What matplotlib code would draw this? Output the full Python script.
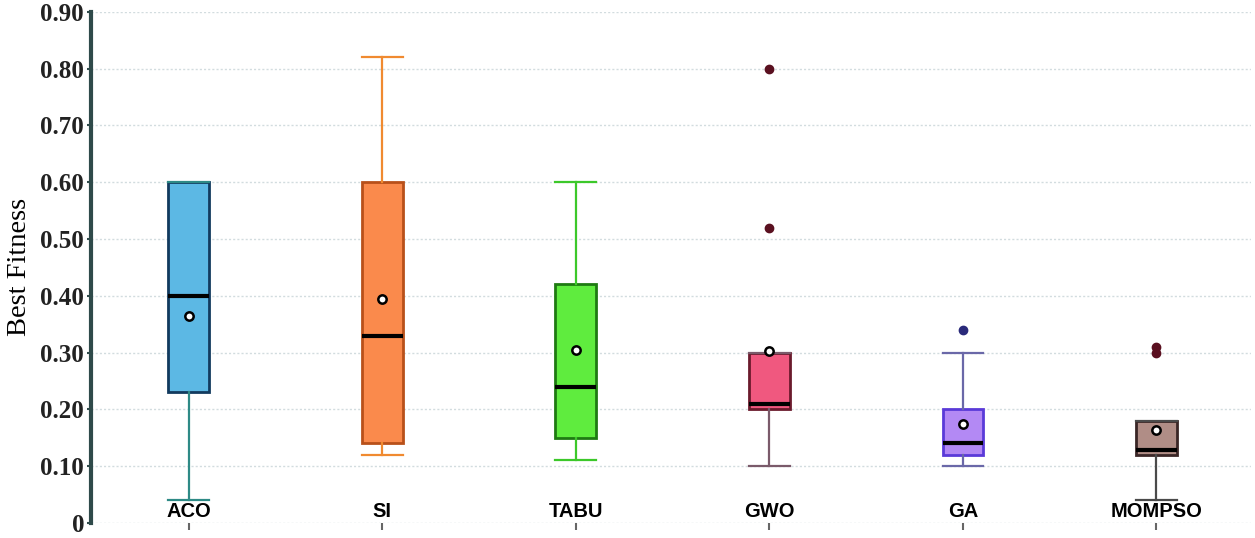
import matplotlib
matplotlib.use('Agg')
import matplotlib.pyplot as plt

# Datos
algos = ['ACO', 'SI', 'TABU', 'GWO', 'GA', 'MOMPSO']
whislo = [0.04, 0.12, 0.11, 0.10, 0.10, 0.04]
q1 = [0.23, 0.14, 0.15, 0.20, 0.12, 0.12]
med = [0.40, 0.33, 0.24, 0.21, 0.14, 0.128]
q3 = [0.60, 0.60, 0.42, 0.30, 0.20, 0.18]
whishi = [0.60, 0.82, 0.60, 0.30, 0.30, 0.18]
means = [0.365, 0.395, 0.305, 0.303, 0.174, 0.164]
fliers = [[], [], [], [0.52, 0.80], [0.34], [0.30, 0.31]]

fills = ['#5cb8e4', '#fa8a4c', '#5fec3e', '#f0587f', '#b389f4', '#b08d86']
edges = ['#123a5e', '#b8501a', '#1e7a12', '#6a1a2c', '#5a3ad8', '#3a2626']
whisk = ['#2e8a86', '#f08a30', '#3cc82a', '#7a5a6a', '#6a68a8', '#4a4a4a']
flier_c = ['#5a1020', '#5a1020', '#5a1020', '#5a1020', '#2a2a7a', '#5a1020']

fig = plt.figure(figsize=(12.55, 5.38), dpi=100)
ax = fig.add_axes([0.0725, 0.028, 0.9245, 0.950])

for i in range(len(algos)):
    st = [{'whislo': whislo[i], 'q1': q1[i], 'med': med[i], 'q3': q3[i],
           'whishi': whishi[i], 'mean': means[i], 'fliers': fliers[i]}]
    ax.bxp(st, positions=[i], widths=0.21, capwidths=0.21, patch_artist=True,
           showmeans=True, showfliers=True,
           boxprops=dict(facecolor=fills[i], edgecolor=edges[i], linewidth=2),
           medianprops=dict(color='black', linewidth=3),
           whiskerprops=dict(color=whisk[i], linewidth=1.6),
           capprops=dict(color=whisk[i], linewidth=1.6),
           meanprops=dict(marker='o', markerfacecolor='white', markeredgecolor='black',
                          markeredgewidth=1.8, markersize=6),
           flierprops=dict(marker='o', markerfacecolor=flier_c[i], markeredgecolor=flier_c[i],
                           markersize=6),
           zorder=3)
    ax.text(i, 0.003, algos[i], ha='center', va='bottom', fontsize=14.5,
            fontweight='bold', family='Liberation Sans', zorder=4)

ax.set_xlim(-0.505, 5.49)
ax.set_ylim(0, 0.9)
yt = [0, 0.1, 0.2, 0.3, 0.4, 0.5, 0.6, 0.7, 0.8, 0.9]
ax.set_yticks(yt)
ax.set_yticklabels(['0'] + ['%.2f' % v for v in yt[1:]], fontsize=18,
                   fontweight='bold', family='Liberation Serif', color='#222222')
ax.set_xticks(range(len(algos)))
ax.set_xticklabels([''] * len(algos))
ax.tick_params(axis='x', length=5, width=1.5, color='#666666')
ax.tick_params(axis='y', length=3, width=1.5, color='#2f4a4a', pad=2)
ax.yaxis.grid(True, linestyle=(0, (1.5, 1.5)), color='#d2dcdf', linewidth=1)
ax.set_axisbelow(True)
for s in ['top', 'right', 'bottom']:
    ax.spines[s].set_visible(False)
ax.spines['left'].set_color('#2f4a4a')
ax.spines['left'].set_linewidth(3)
ax.set_ylabel('Best Fitness', fontsize=20.5, family='Liberation Serif', labelpad=6)

plt.savefig('out.png', dpi=100)
